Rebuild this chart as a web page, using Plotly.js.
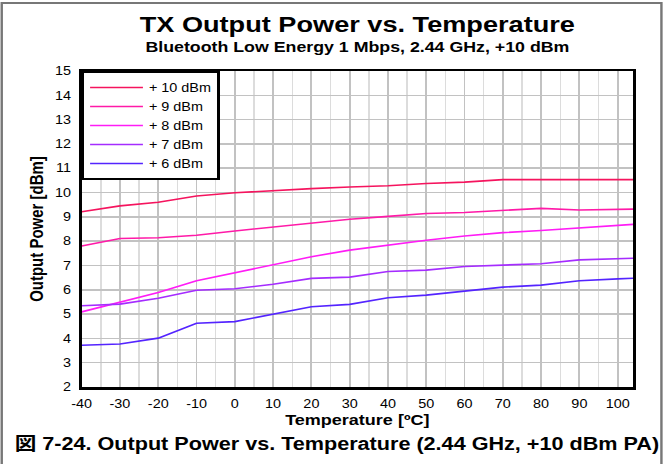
<!DOCTYPE html>
<html>
<head>
<meta charset="utf-8">
<script src="https://cdn.plot.ly/plotly-3.0.1.min.js"></script>
<style>
  html, body { margin: 0; padding: 0; background: #fff; overflow: hidden; }
  #chart { width: 552px; height: 464px; transform: scaleX(1.2011); transform-origin: 0 0; }
</style>
</head>
<body>
<div id="chart"></div>
<script>
// ---- data ----
const temperature = [-40, -30, -20, -10, 0, 10, 20, 30, 40, 50, 60, 70, 80, 90, 100, 105];
const p10dBm = [9.21, 9.45, 9.60, 9.86, 9.99, 10.09, 10.16, 10.23, 10.28, 10.37, 10.43, 10.53, 10.53, 10.53, 10.53, 10.53];
const p9dBm  = [7.80, 8.11, 8.14, 8.24, 8.42, 8.58, 8.76, 8.90, 9.02, 9.14, 9.18, 9.28, 9.35, 9.28, 9.31, 9.32];
const p8dBm  = [5.09, 5.50, 5.89, 6.37, 6.70, 7.04, 7.36, 7.63, 7.85, 8.04, 8.21, 8.35, 8.44, 8.55, 8.65, 8.70];
const p7dBm  = [5.34, 5.41, 5.65, 5.98, 6.04, 6.23, 6.47, 6.52, 6.75, 6.81, 6.96, 7.03, 7.07, 7.23, 7.29, 7.30];
const p6dBm  = [3.72, 3.77, 4.01, 4.62, 4.69, 4.99, 5.30, 5.40, 5.67, 5.78, 5.93, 6.11, 6.19, 6.37, 6.45, 6.48];
const seriesNames = ['+ 10 dBm', '+ 9 dBm', '+ 8 dBm', '+ 7 dBm', '+ 6 dBm'];
const seriesValues = [p10dBm, p9dBm, p8dBm, p7dBm, p6dBm];
const seriesColors = ['#f5145e', '#ff1aa8', '#ff1cf6', '#a52cff', '#5424ff'];
const xTicks = [-40, -30, -20, -10, 0, 10, 20, 30, 40, 50, 60, 70, 80, 90, 100];
const yTicks = [2, 3, 4, 5, 6, 7, 8, 9, 10, 11, 12, 13, 14, 15];

const FONT = 'Liberation Sans, Arial, Helvetica, Noto Sans CJK JP, sans-serif';

const traces = seriesNames.map((name, i) => ({
  type: 'scatter',
  mode: 'lines',
  name: name,
  x: temperature,
  y: seriesValues[i],
  line: { color: seriesColors[i], width: 1.6 },
  hoverinfo: 'x+y+name'
}));

const layout = {
  width: 552,
  height: 464,
  margin: { l: 67.5, r: 25, t: 71, b: 77, pad: 0 },
  paper_bgcolor: '#ffffff',
  plot_bgcolor: '#ffffff',
  font: { family: FONT, color: '#000000', size: 12 },
  showlegend: true,
  title: {
    text: 'TX Output Power vs. Temperature',
    font: { family: FONT, size: 22.6, weight: 'bold', color: '#000' },
    x: 0.5, xref: 'paper', xanchor: 'center',
    y: 1 - 24 / 464, yref: 'container', yanchor: 'middle'
  },
  xaxis: {
    range: [-40, 104],
    tickmode: 'array',
    tickvals: xTicks,
    ticktext: xTicks.map(String),
    ticks: '',
    ticklabelstandoff: 4,
    tickfont: { family: FONT, size: 12, color: '#000' },
    showgrid: true,
    gridcolor: '#c2c2c2',
    gridwidth: 1.5,
    minor: { dtick: 5, tick0: -40, showgrid: true, gridcolor: '#dcdcdc', gridwidth: 1.2, ticks: '' },
    zeroline: false,
    showline: true,
    linecolor: '#000',
    linewidth: 2.5,
    mirror: true,
    title: {
      text: 'Temperature [ºC]',
      font: { family: FONT, size: 15, weight: 'bold', color: '#000' },
      standoff: 4
    }
  },
  yaxis: {
    range: [2, 15],
    tickmode: 'array',
    tickvals: yTicks,
    ticktext: yTicks.map(String),
    ticks: '',
    ticklabelstandoff: 4,
    tickfont: { family: FONT, size: 12, color: '#000' },
    showgrid: true,
    gridcolor: '#c2c2c2',
    gridwidth: 1.5,
    zeroline: false,
    showline: true,
    linecolor: '#000',
    linewidth: 2.5,
    mirror: true,
    title: {
      text: 'Output Power [dBm]',
      font: { family: FONT, size: 15, weight: 'bold', color: '#000' },
      standoff: 6
    }
  },
  legend: {
    x: 0, xref: 'paper', xanchor: 'left',
    y: 1, yref: 'paper', yanchor: 'top',
    bgcolor: '#ffffff',
    bordercolor: '#000000',
    borderwidth: 2,
    font: { family: FONT, size: 12, color: '#000' },
    itemwidth: 44,
    tracegroupgap: 0
  },
  annotations: [
    {
      text: 'Bluetooth Low Energy 1 Mbps, 2.44 GHz, +10 dBm',
      xref: 'paper', yref: 'paper', x: 0.5, y: (387 - 47) / 316,
      xanchor: 'center', yanchor: 'middle', showarrow: false,
      font: { family: FONT, size: 14.8, weight: 'bold', color: '#000' }
    },
    {
      text: '図 7-24. Output Power vs. Temperature (2.44 GHz, +10 dBm PA)',
      xref: 'paper', yref: 'paper', x: (11 - 81) / 552, y: (387 - 444) / 316,
      xanchor: 'left', yanchor: 'middle', showarrow: false,
      font: { family: FONT, size: 18, weight: 'bold', color: '#000' }
    }
  ],
  shapes: [
    {
      type: 'path', xref: 'paper', yref: 'paper', layer: 'above',
      path: 'M -0.145,-0.3 L -0.145,1.2152 L 1.0516,1.2152 L 1.0516,-0.3',
      line: { color: '#777777', width: 2 }
    }
  ]
};

Plotly.newPlot('chart', traces, layout, { displayModeBar: false, staticPlot: true });
</script>
</body>
</html>
